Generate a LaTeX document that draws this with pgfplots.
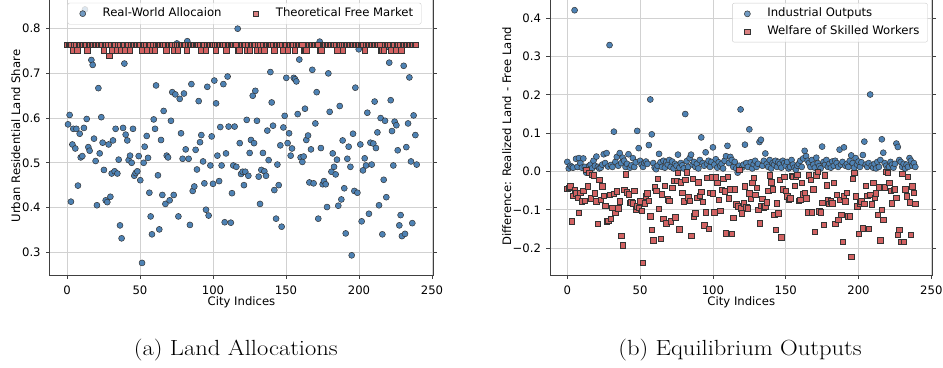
\documentclass[border=0pt]{standalone}
\usepackage{fontspec}
\usepackage{pgfplots}
\pgfplotsset{compat=1.18}
\newfontfamily\dejavu{DejaVu Sans}
\definecolor{ptblue}{RGB}{78,130,180}
\definecolor{ptred}{RGB}{210,98,98}
\newcommand{\sfsize}{\dejavu\fontsize{11.7}{14}\selectfont}
\pgfplotsset{
 base/.style={
  scale only axis,
  xmin=-11.95, xmax=250.95,
  xtick={0,50,100,150,200,250},
  xticklabels={0,50,100,150,200,250},
  tick align=outside,
  major tick length=3.5bp,
  tick style={black!75, line width=0.8bp},
  axis line style={black!75, line width=0.8bp},
  xmajorgrids, ymajorgrids,
  major grid style={black!18, line width=0.8bp},
  ticklabel style={font=\sfsize},
  xticklabel style={anchor=base, inner sep=0pt, yshift=-15.4bp},
  yticklabel style={anchor=east, inner sep=0pt, xshift=-5.2bp},
  label style={font=\sfsize},
  legend cell align=left,
  legend style={font=\sfsize, draw=black!20, rounded corners=2bp, fill=white, fill opacity=0.8, text opacity=1, draw opacity=1,
    inner xsep=6bp, inner ysep=2.8bp, row sep=2bp, nodes={inner sep=2bp, text height=8.9bp, text depth=2.8bp}},
  legend image code/.code={\path[draw=none, fill=none] (0bp,-1bp) rectangle (27bp,1bp); \draw[mark repeat=2, mark phase=2, #1] plot coordinates {(0bp,0bp) (9bp,0bp) (27bp,0bp)};},
  clip=false,
 },
 bluemark/.style={only marks, mark=*, mark size=3bp, mark options={fill=ptblue, draw=black!80, line width=0.5bp}},
 redmark/.style={only marks, mark=square*, mark size=2.7bp, mark options={fill=ptred, draw=black!80, line width=0.5bp}},
}
\begin{document}
\begin{tikzpicture}
\useasboundingbox (0,0) rectangle (943bp,368bp);
\begin{axis}[base, at={(49.55bp,92.7bp)}, anchor=south west, width=383.85bp, height=278.3bp,
  ymin=0.2483, ymax=0.8709,
  ytick={0.3,0.4,0.5,0.6,0.7,0.8}, yticklabels={0.3,0.4,0.5,0.6,0.7,0.8},
  xlabel={City Indices}, ylabel={Urban Residential Land Share},
  xlabel style={at={(axis description cs:0.5,-0.1085)}, anchor=base},
  ylabel style={at={(axis description cs:-0.0881,0.5)}, anchor=center},
  legend columns=2,
  legend style={at={(0.5,1)}, anchor=north, xshift=3bp, yshift=-5.8bp}]
\addplot[bluemark] coordinates {
(0.7,0.586)(1.8,0.607)(2.7,0.413)(3.7,0.541)(4.3,0.576)(5.7,0.532)(6.4,0.576)(7.5,0.449)(8.7,0.565)(9.4,0.512)
(10.5,0.515)(11.6,0.578)(12.3,0.843)(13.5,0.598)(14.6,0.535)(15.5,0.527)(16.7,0.730)(17.6,0.719)(18.5,0.554)(19.6,0.504)
(20.5,0.405)(21.5,0.667)(22.4,0.521)(23.5,0.602)(24.4,0.545)(25.3,0.484)(26.5,0.416)(27.6,0.412)(28.5,0.541)(29.7,0.424)
(30.6,0.476)(31.5,0.550)(32.6,0.481)(33.3,0.576)(34.5,0.476)(35.4,0.507)(36.3,0.360)(37.4,0.331)(38.4,0.578)(39.3,0.722)
(40.2,0.563)(41.3,0.550)(42.2,0.506)(43.2,0.516)(44.3,0.500)(45.2,0.576)(46.1,0.471)(47.0,0.477)(48.2,0.481)(49.1,0.515)
(50.2,0.461)(51.4,0.276)(52.5,0.500)(53.2,0.536)(54.6,0.560)(55.5,0.511)(56.4,0.433)(57.3,0.380)(58.2,0.340)(59.4,0.597)
(60.3,0.576)(61.0,0.673)(62.3,0.472)(63.2,0.351)(64.4,0.551)(65.3,0.428)(66.2,0.616)(67.4,0.408)(68.3,0.516)(69.2,0.512)
(70.3,0.416)(71.2,0.594)(72.1,0.658)(73.1,0.428)(74.2,0.653)(75.3,0.767)(76.3,0.380)(77.2,0.643)(78.1,0.566)(79.2,0.509)
(80.1,0.655)(81.3,0.530)(82.4,0.772)(83.3,0.509)(84.2,0.361)(85.2,0.676)(86.1,0.437)(87.2,0.447)(88.1,0.529)(89.0,0.485)
(90.2,0.638)(91.1,0.546)(92.0,0.562)(93.2,0.503)(94.1,0.454)(95.2,0.395)(96.1,0.670)(97.0,0.382)(98.2,0.494)(99.1,0.559)
(100.0,0.453)(100.9,0.684)(102.1,0.633)(103.0,0.516)(104.2,0.459)(105.0,0.580)(105.9,0.494)(107.1,0.676)(108.0,0.367)(108.9,0.521)
(110.0,0.693)(110.7,0.581)(112.2,0.366)(113.0,0.432)(113.9,0.494)(114.8,0.581)(116.0,0.491)(116.9,0.800)
(118.3,0.544)(119.2,0.475)(120.3,0.480)(121.2,0.450)(122.1,0.480)(123.1,0.596)(124.2,0.471)(125.1,0.522)(126.0,0.551)(127.2,0.650)
(128.1,0.544)(129.0,0.661)(130.1,0.594)(131.3,0.469)(132.2,0.408)(133.1,0.484)(134.2,0.522)(135.2,0.481)(136.3,0.471)(137.2,0.572)
(138.1,0.506)(139.3,0.703)(140.2,0.635)(141.1,0.583)(142.0,0.439)(143.2,0.375)(144.1,0.496)(145.0,0.450)(146.1,0.539)(147.0,0.357)
(148.2,0.579)(149.1,0.605)(150.2,0.690)(151.1,0.544)(152.1,0.566)(153.2,0.516)(154.1,0.532)(155.3,0.690)(156.2,0.687)(157.1,0.682)
(158.0,0.609)(159.1,0.731)(160.0,0.512)(161.2,0.502)(162.1,0.514)(163.0,0.621)(163.9,0.551)(165.1,0.561)(166.0,0.456)(167.1,0.530)
(168.0,0.708)(168.9,0.454)(170.1,0.588)(171.0,0.658)(172.1,0.375)(173.1,0.771)(173.9,0.533)(175.1,0.452)(176.0,0.459)(177.2,0.452)
(178.1,0.401)(179.0,0.700)(179.9,0.614)(181.1,0.480)(182.0,0.521)(182.9,0.491)(184.0,0.474)(184.9,0.507)(185.8,0.404)(186.8,0.627)
(187.9,0.418)(188.8,0.550)(189.9,0.443)(190.9,0.342)(192.0,0.509)(192.9,0.536)(194.1,0.491)(195.0,0.293)(195.9,0.565)(196.8,0.437)
(197.5,0.668)(198.9,0.433)(199.8,0.754)(200.9,0.541)(201.8,0.369)(202.7,0.483)(203.9,0.510)(204.8,0.494)(205.7,0.612)(206.8,0.386)
(207.8,0.545)(208.7,0.496)(209.8,0.543)(210.7,0.637)(211.6,0.533)(212.6,0.568)(213.7,0.405)(214.8,0.600)(216.0,0.340)(216.9,0.462)
(217.8,0.594)(218.7,0.423)(219.6,0.760)(220.7,0.724)(221.7,0.640)(222.6,0.571)(223.5,0.494)(224.4,0.592)(225.6,0.584)(226.5,0.528)
(227.6,0.360)(228.5,0.383)(229.4,0.336)(230.6,0.717)(231.5,0.341)(232.4,0.535)(233.6,0.588)(234.5,0.691)(235.6,0.503)(236.5,0.365)
(237.4,0.606)(238.6,0.562)(239.5,0.496)
};
\addlegendentry{Real-World Allocaion\hspace*{23.3bp}}
\addplot[redmark] coordinates {
(0,0.764)(1,0.764)(2,0.764)(3,0.764)(4,0.752)(5,0.764)(6,0.764)(7,0.752)(8,0.764)(9,0.764)
(10,0.764)(11,0.764)(12,0.764)(13,0.764)(14,0.752)(15,0.764)(16,0.764)(17,0.764)(18,0.764)(19,0.764)
(20,0.764)(21,0.764)(22,0.764)(23,0.764)(24,0.764)(25,0.752)(26,0.764)(27,0.764)(28,0.764)(29,0.740)
(30,0.764)(31,0.752)(32,0.764)(33,0.764)(34,0.752)(35,0.764)(36,0.764)(37,0.752)(38,0.764)(39,0.764)
(40,0.752)(41,0.764)(42,0.764)(43,0.752)(44,0.764)(45,0.764)(46,0.764)(47,0.764)(48,0.764)(49,0.764)
(50,0.764)(51,0.752)(52,0.764)(53,0.764)(54,0.764)(55,0.752)(56,0.764)(57,0.764)(58,0.752)(59,0.764)
(60,0.752)(61,0.764)(62,0.764)(63,0.764)(64,0.764)(65,0.764)(66,0.764)(67,0.764)(68,0.752)(69,0.764)
(70,0.764)(71,0.764)(72,0.764)(73,0.752)(74,0.764)(75,0.764)(76,0.752)(77,0.764)(78,0.764)(79,0.764)
(80,0.764)(81,0.764)(82,0.752)(83,0.764)(84,0.764)(85,0.764)(86,0.764)(87,0.764)(88,0.764)(89,0.764)
(90,0.764)(91,0.764)(92,0.752)(93,0.764)(94,0.764)(95,0.752)(96,0.764)(97,0.764)(98,0.764)(99,0.764)
(100,0.764)(101,0.764)(102,0.752)(103,0.764)(104,0.764)(105,0.764)(106,0.764)(107,0.764)(108,0.764)(109,0.752)
(110,0.764)(111,0.764)(112,0.764)(113,0.764)(114,0.764)(115,0.764)(116,0.764)(117,0.752)(118,0.752)(119,0.764)
(120,0.764)(121,0.764)(122,0.764)(123,0.752)(124,0.764)(125,0.752)(126,0.764)(127,0.764)(128,0.764)(129,0.764)
(130,0.752)(131,0.764)(132,0.764)(133,0.752)(134,0.764)(135,0.752)(136,0.764)(137,0.764)(138,0.764)(139,0.764)
(140,0.764)(141,0.764)(142,0.752)(143,0.764)(144,0.764)(145,0.764)(146,0.764)(147,0.764)(148,0.752)(149,0.764)
(150,0.764)(151,0.752)(152,0.764)(153,0.764)(154,0.764)(155,0.764)(156,0.752)(157,0.764)(158,0.764)(159,0.764)
(160,0.764)(161,0.764)(162,0.752)(163,0.752)(164,0.752)(165,0.764)(166,0.764)(167,0.764)(168,0.764)(169,0.764)
(170,0.764)(171,0.764)(172,0.764)(173,0.752)(174,0.752)(175,0.764)(176,0.764)(177,0.764)(178,0.764)(179,0.764)
(180,0.764)(181,0.764)(182,0.764)(183,0.764)(184,0.764)(185,0.752)(186,0.764)(187,0.764)(188,0.764)(189,0.752)
(190,0.764)(191,0.764)(192,0.764)(193,0.764)(194,0.764)(195,0.764)(196,0.764)(197,0.764)(198,0.764)(199,0.764)
(200,0.764)(201,0.764)(202,0.764)(203,0.764)(204,0.752)(205,0.764)(206,0.764)(207,0.764)(208,0.764)(209,0.764)
(210,0.764)(211,0.764)(212,0.764)(213,0.764)(214,0.764)(215,0.752)(216,0.752)(217,0.752)(218,0.764)(219,0.764)
(220,0.764)(221,0.764)(222,0.752)(223,0.764)(224,0.764)(225,0.752)(226,0.764)(227,0.764)(228,0.764)(229,0.752)
(230,0.764)(231,0.764)(232,0.764)(233,0.764)(234,0.764)(235,0.764)(236,0.764)(237,0.764)(238,0.764)(239,0.764)
};
\addlegendentry{Theoretical Free Market}
\end{axis}

\begin{axis}[base, at={(549.9bp,92.7bp)}, anchor=south west, width=382.8bp, height=277.7bp,
  ymin=-0.271, ymax=0.454,
  ytick={-0.2,-0.1,0,0.1,0.2,0.3,0.4}, yticklabels={−0.2,−0.1,0.0,0.1,0.2,0.3,0.4},
  xlabel={City Indices}, ylabel={Difference: Realized Land - Free Land},
  xlabel style={at={(axis description cs:0.5,-0.1087)}, anchor=base},
  ylabel style={at={(axis description cs:-0.1129,0.5)}, anchor=center},
  legend style={at={(1,1)}, anchor=north east, xshift=-5bp, yshift=-5.4bp}]
\addplot[bluemark] coordinates {
(0,0.025)(1,0.008)(2,0.015)(3,0.012)(4,0.010)(5,0.421)(6,0.033)(7,0.012)(8,0.035)(9,0.022)
(10,0.010)(11,0.034)(12,0.012)(13,-0.003)(14,0.005)(15,0.015)(16,0.018)(17,0.008)(18,0.028)(19,0.015)
(20,0.039)(21,0.012)(22,0.008)(23,0.010)(24,0.018)(25,0.045)(26,0.022)(27,0.048)(28,0.013)(29,0.330)
(30,0.017)(31,0.012)(32,0.104)(33,0.025)(34,0.038)(35,0.015)(36,0.048)(37,0.022)(38,0.036)(39,0.028)
(40,0.012)(41,0.020)(42,0.045)(43,0.010)(44,0.016)(45,0.035)(46,0.012)(47,0.024)(48,0.106)(49,0.061)
(50,0.028)(51,0.018)(52,0.012)(53,0.022)(54,0.026)(55,0.020)(56,0.069)(57,0.188)(58,0.097)(59,0.022)
(60,0.010)(61,0.006)(62,0.015)(63,0.046)(64,0.024)(65,0.012)(66,0.028)(67,0.010)(68,0.025)(69,0.018)
(70,0.030)(71,0.012)(72,0.026)(73,0.008)(74,0.020)(75,0.015)(76,0.044)(77,0.010)(78,0.022)(79,0.016)
(80,0.008)(81,0.150)(82,0.027)(83,0.012)(84,0.035)(85,0.044)(86,0.018)(87,0.025)(88,0.012)(89,0.020)
(90,0.008)(91,0.030)(92,0.089)(93,0.022)(94,0.015)(95,0.050)(96,0.020)(97,0.028)(98,0.012)(99,0.025)
(100,0.063)(101,0.018)(102,0.032)(103,0.010)(104,0.024)(105,0.015)(106,0.020)(107,0.008)(108,0.028)(109,0.040)
(110,0.067)(111,0.022)(112,0.038)(113,0.030)(114,0.012)(115,0.025)(116,0.008)(117,-0.003)(118,0.015)(119,0.162)
(120,0.010)(121,0.018)(122,0.070)(123,0.022)(124,0.012)(125,0.110)(126,0.024)(127,0.008)(128,0.019)(129,0.028)
(130,0.012)(131,0.020)(132,0.077)(133,0.083)(134,0.015)(135,0.028)(136,0.047)(137,0.020)(138,0.012)(139,0.030)
(140,0.008)(141,0.022)(142,0.018)(143,0.028)(144,0.012)(145,0.025)(146,0.020)(147,0.010)(148,0.028)(149,0.022)
(150,0.015)(151,0.025)(152,0.008)(153,0.012)(154,0.030)(155,0.018)(156,0.010)(157,0.005)(158,0.015)(159,0.020)
(160,0.028)(161,0.012)(162,0.034)(163,0.054)(164,0.040)(165,0.028)(166,0.022)(167,0.012)(168,0.030)(169,0.018)
(170,0.010)(171,0.036)(172,0.022)(173,0.014)(174,0.008)(175,0.065)(176,0.025)(177,0.018)(178,0.030)(179,0.012)
(180,0.020)(181,0.010)(182,0.026)(183,0.015)(184,0.028)(185,0.022)(186,0.012)(187,0.057)(188,0.018)(189,0.025)
(190,0.063)(191,0.015)(192,0.020)(193,0.012)(194,0.028)(195,0.042)(196,0.022)(197,0.010)(198,0.035)(199,0.018)
(200,0.026)(201,0.012)(202,0.024)(203,0.043)(204,0.078)(205,0.018)(206,0.012)(207,0.022)(208,0.201)(209,0.015)
(210,0.010)(211,0.020)(212,0.008)(213,0.025)(214,0.012)(215,0.030)(216,0.084)(217,0.049)(218,0.022)(219,0.015)
(220,0.008)(221,0.012)(222,0.025)(223,0.018)(224,0.010)(225,0.020)(226,0.073)(227,0.064)(228,0.030)(229,0.025)
(230,0.012)(231,0.020)(232,0.008)(233,0.018)(234,0.012)(235,0.035)(236,0.028)(237,0.015)(238,0.022)(239,0.012)
};
\addlegendentry{Industrial Outputs}
\addplot[redmark] coordinates {
(0,-0.045)(1,-0.042)(2,-0.039)(3,-0.130)(4,-0.063)(5,-0.048)(6,-0.057)(7,-0.068)(8,-0.107)(9,-0.055)
(10,-0.078)(11,-0.050)(12,-0.077)(13,0.004)(14,-0.039)(15,-0.004)(16,-0.070)(17,-0.009)(18,-0.010)(19,-0.057)
(20,-0.078)(21,-0.137)(22,-0.022)(23,-0.074)(24,-0.039)(25,-0.063)(26,-0.089)(27,-0.130)(28,-0.129)(29,-0.061)
(30,-0.123)(31,-0.094)(32,-0.058)(33,-0.107)(34,-0.052)(35,-0.096)(36,-0.078)(37,-0.167)(38,-0.193)(39,-0.048)
(40,-0.007)(41,-0.054)(42,-0.059)(43,-0.081)(44,-0.080)(45,-0.083)(46,-0.050)(47,-0.100)(48,-0.091)(49,-0.095)
(50,-0.078)(51,-0.102)(52,-0.238)(53,-0.083)(54,-0.065)(55,-0.057)(56,-0.077)(57,-0.117)(58,-0.152)(59,-0.180)
(60,-0.041)(61,-0.050)(62,-0.019)(63,-0.097)(64,-0.176)(65,-0.059)(66,-0.123)(67,-0.037)(68,-0.135)(69,-0.072)
(70,-0.076)(71,-0.130)(72,-0.043)(73,-0.024)(74,-0.119)(75,-0.024)(76,-0.003)(77,-0.151)(78,-0.028)(79,-0.055)
(80,-0.078)(81,-0.022)(82,-0.002)(83,-0.067)(84,-0.077)(85,-0.167)(86,-0.019)(87,-0.117)(88,-0.109)(89,-0.068)
(90,-0.028)(91,-0.063)(92,-0.053)(93,-0.079)(94,-0.140)(95,-0.106)(96,-0.017)(97,-0.150)(98,-0.056)(99,-0.015)
(100,-0.057)(101,-0.106)(102,-0.015)(103,-0.030)(104,-0.074)(105,-0.103)(106,-0.048)(107,-0.019)(108,-0.052)(109,-0.161)
(110,-0.013)(111,-0.070)(112,-0.046)(113,-0.163)(114,-0.121)(115,-0.046)(116,-0.085)(117,-0.091)(118,0.005)(119,-0.096)
(120,-0.109)(121,-0.083)(122,-0.039)(123,-0.093)(124,-0.096)(125,-0.057)(126,-0.071)(127,-0.030)(128,-0.017)(129,-0.061)
(130,-0.043)(131,-0.100)(132,-0.135)(133,-0.090)(134,-0.071)(135,-0.093)(136,-0.091)(137,-0.080)(138,-0.050)(139,-0.010)
(140,-0.028)(141,-0.046)(142,-0.113)(143,-0.152)(144,-0.083)(145,-0.109)(146,-0.022)(147,-0.172)(148,-0.046)(149,-0.013)
(150,-0.050)(151,-0.065)(152,-0.074)(153,-0.070)(154,-0.011)(155,-0.013)(156,-0.037)(157,-0.013)(158,-0.009)(159,-0.077)
(160,-0.074)(161,-0.030)(162,-0.059)(163,-0.055)(164,-0.070)(165,-0.106)(166,-0.010)(167,-0.022)(168,-0.106)(169,-0.046)
(170,-0.157)(171,-0.010)(172,0.000)(173,-0.104)(174,-0.106)(175,-0.081)(176,-0.139)(177,-0.010)(178,-0.036)(179,-0.074)
(180,-0.084)(181,-0.078)(182,-0.083)(183,-0.030)(184,-0.137)(185,-0.061)(186,-0.126)(187,-0.074)(188,-0.113)(189,-0.183)
(190,-0.065)(191,-0.078)(192,-0.055)(193,-0.117)(194,-0.117)(195,-0.223)(196,-0.019)(197,-0.003)(198,-0.065)(199,-0.091)
(200,-0.163)(201,-0.083)(202,-0.078)(203,-0.148)(204,-0.084)(205,-0.037)(206,-0.063)(207,-0.150)(208,-0.061)(209,-0.085)
(210,-0.029)(211,-0.068)(212,-0.057)(213,-0.113)(214,-0.041)(215,-0.180)(216,-0.100)(217,-0.126)(218,-0.041)(219,0.000)
(220,-0.004)(221,-0.029)(222,-0.050)(223,-0.083)(224,-0.048)(225,-0.046)(226,-0.068)(227,-0.165)(228,-0.152)(229,-0.183)
(230,-0.006)(231,-0.183)(232,-0.046)(233,-0.065)(234,-0.013)(235,-0.080)(236,-0.165)(237,-0.039)(238,-0.055)(239,-0.084)
};
\addlegendentry{Welfare of Skilled Workers}
\end{axis}

\node[anchor=base, font=\fontsize{22}{26}\selectfont, inner sep=0pt, xscale=1.12, transform shape] at (235.8bp,12.5bp) {(a) Land Allocations};
\node[anchor=base, font=\fontsize{22}{26}\selectfont, inner sep=0pt, xscale=1.12, transform shape] at (740bp,12.5bp) {(b) Equilibrium Outputs};
\end{tikzpicture}
\end{document}
